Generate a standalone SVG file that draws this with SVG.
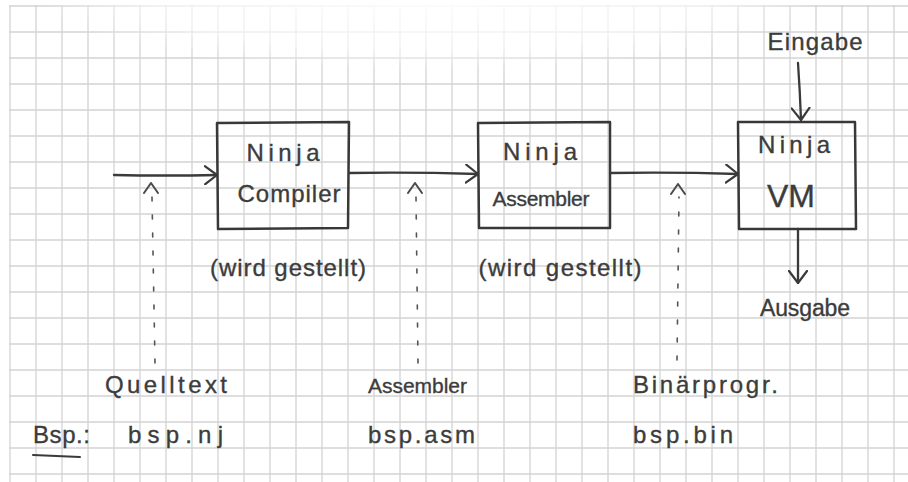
<svg xmlns="http://www.w3.org/2000/svg" width="908" height="482" viewBox="0 0 908 482">
  <defs>
    <pattern id="grid" x="9" y="5" width="26" height="26" patternUnits="userSpaceOnUse">
      <path d="M1 0 V26 M0 1 H26" stroke="#d3d3d3" stroke-width="1.3" fill="none"/>
    </pattern>
    <radialGradient id="fade" cx="0.5" cy="0.35" r="0.5">
      <stop offset="0" stop-color="#ffffff" stop-opacity="0.92"/>
      <stop offset="0.7" stop-color="#ffffff" stop-opacity="0.6"/>
      <stop offset="1" stop-color="#ffffff" stop-opacity="0"/>
    </radialGradient>
    <marker id="head" viewBox="0 0 14 20" refX="13" refY="10" markerWidth="14" markerHeight="20" markerUnits="userSpaceOnUse" orient="auto">
      <path d="M1 1 L13 10 L1 19" fill="none" stroke="#3a3a3a" stroke-width="2.2" stroke-linecap="round" stroke-linejoin="round"/>
    </marker>
    <marker id="hat" viewBox="0 0 12 16" refX="11" refY="8" markerWidth="12" markerHeight="16" markerUnits="userSpaceOnUse" orient="auto">
      <path d="M1 1 L11 8 L1 15" fill="none" stroke="#4a4a4a" stroke-width="2" stroke-linecap="round" stroke-linejoin="round"/>
    </marker>
  </defs>
  <style>
    .box { fill: none; stroke: #383838; stroke-width: 2.5; stroke-linejoin: round; }
    .flow { fill: none; stroke: #3a3a3a; stroke-width: 2.3; stroke-linecap: round; marker-end: url(#head); }
    .data { fill: none; stroke: #555555; stroke-width: 1.6; stroke-dasharray: 4 14; stroke-linecap: round; }
    .hatline { fill: none; stroke: none; marker-end: url(#hat); }
    .hand { font-family: "Liberation Sans", "DejaVu Sans", sans-serif; font-size: 24px; fill: #3c3c3c; stroke: #3c3c3c; stroke-width: 0.35; }
    .mid { text-anchor: middle; }
    .s21 { font-size: 21px; }
    .s23 { font-size: 23px; }
    .s32 { font-size: 32px; }
  </style>

  <!-- squared paper -->
  <rect width="908" height="482" fill="#ffffff"/>
  <rect x="9" y="5" width="899" height="477" fill="url(#grid)"/>
  <ellipse cx="430" cy="22" rx="390" ry="70" fill="url(#fade)"/>

  <!-- connectors -->
  <g id="connectors">
    <path class="flow" d="M114 175 Q165 176 217 175"/>
    <path class="flow" d="M349 173 Q412 172 478 174"/>
    <path class="flow" d="M610 173 Q675 172 738 174"/>
    <path class="flow" d="M798 63 Q800 92 801 120"/>
    <path class="flow" d="M798 229 L798 283"/>

    <path class="data" d="M155 363 L152 197"/>
    <path class="hatline" d="M151 200 L151 183"/>
    <path class="data" d="M418 363 L416 197"/>
    <path class="hatline" d="M415 200 L415 183"/>
    <path class="data" d="M677 360 L679 197"/>
    <path class="hatline" d="M678 200 L678 184"/>
  </g>

  <!-- Ninja Compiler -->
  <g id="compiler">
    <path class="box" d="M217 123 L349 122 L348 228 L218 229 Z"/>
    <text class="hand mid" x="283" y="161" textLength="73" lengthAdjust="spacing">Ninja</text>
    <text class="hand mid" x="289" y="202" textLength="103" lengthAdjust="spacing">Compiler</text>
    <text class="hand mid" x="288" y="276" textLength="156" lengthAdjust="spacing">(wird gestellt)</text>
  </g>

  <!-- Ninja Assembler -->
  <g id="assembler">
    <path class="box" d="M478 123 L610 122 L610 228 L479 228 Z"/>
    <text class="hand mid" x="540" y="160" textLength="74" lengthAdjust="spacing">Ninja</text>
    <text class="hand mid s21" x="541" y="206" textLength="97" lengthAdjust="spacing">Assembler</text>
    <text class="hand mid" x="560" y="276" textLength="163" lengthAdjust="spacing">(wird gestellt)</text>
  </g>

  <!-- Ninja VM -->
  <g id="vm">
    <path class="box" d="M738 122 L855 122 L856 229 L739 229 Z"/>
    <text class="hand mid" x="794" y="153" textLength="72" lengthAdjust="spacing">Ninja</text>
    <text class="hand mid s32" x="791" y="207" textLength="48" lengthAdjust="spacing">VM</text>
  </g>

  <g id="eingabe">
    <text class="hand mid" x="815" y="50" textLength="95" lengthAdjust="spacing">Eingabe</text>
  </g>
  <g id="ausgabe">
    <text class="hand mid s23" x="805" y="316" textLength="90" lengthAdjust="spacing">Ausgabe</text>
  </g>

  <!-- file kinds and example names -->
  <g id="quelltext">
    <text class="hand" x="105" y="393" textLength="122" lengthAdjust="spacing">Quelltext</text>
    <text class="hand" x="128" y="443" textLength="95" lengthAdjust="spacing">bsp.nj</text>
  </g>
  <g id="assemblerfile">
    <text class="hand s21" x="368" y="393" textLength="99" lengthAdjust="spacing">Assembler</text>
    <text class="hand" x="368" y="443" textLength="107" lengthAdjust="spacing">bsp.asm</text>
  </g>
  <g id="binaer">
    <text class="hand" x="633" y="393" textLength="145" lengthAdjust="spacing">Binärprogr.</text>
    <text class="hand" x="633" y="443" textLength="100" lengthAdjust="spacing">bsp.bin</text>
  </g>
  <g id="bsp">
    <text class="hand" x="33" y="443" textLength="57" lengthAdjust="spacing">Bsp.:</text>
    <path d="M33 455 L80 457" stroke="#3a3a3a" stroke-width="2" fill="none" stroke-linecap="round"/>
  </g>
</svg>
